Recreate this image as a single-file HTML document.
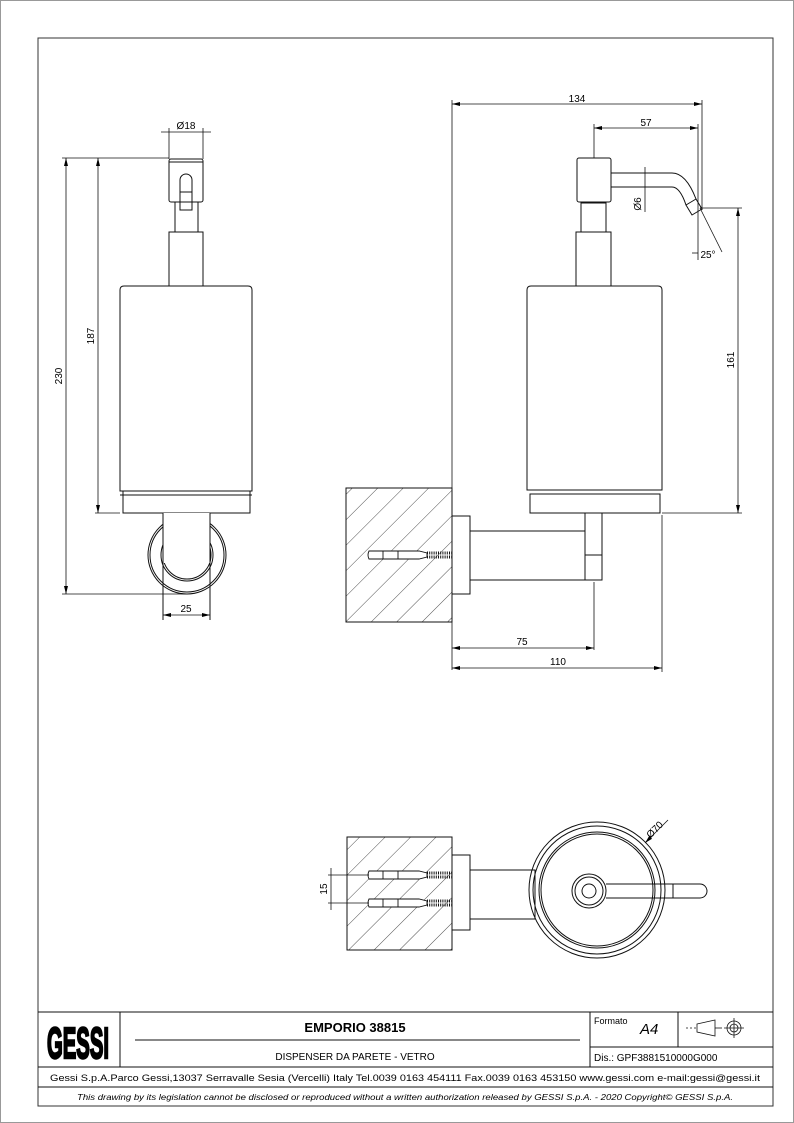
<!DOCTYPE html>
<html><head><meta charset="utf-8"><style>
html,body{margin:0;padding:0;background:#fff}
svg{display:block}
text{font-family:"Liberation Sans",sans-serif;fill:#000}
</style></head><body>
<svg width="794" height="1123" viewBox="0 0 794 1123" xmlns="http://www.w3.org/2000/svg">
<defs>
<pattern id="h" patternUnits="userSpaceOnUse" width="18" height="18" patternTransform="rotate(45)">
<line x1="0" y1="0" x2="0" y2="18" stroke="#222" stroke-width="0.8"/>
</pattern>
<marker id="a" markerWidth="8" markerHeight="6" refX="8" refY="3" orient="auto-start-reverse" markerUnits="userSpaceOnUse"><path d="M0,1 L8,3 L0,5z" fill="#000"/></marker>
</defs>
<rect x="0.5" y="0.5" width="793" height="1122" fill="none" stroke="#999"/>
<rect x="38" y="38" width="735" height="1068" fill="none" stroke="#333" stroke-width="1"/>

<g fill="none" stroke="#111" stroke-width="1">
<!-- LEFT VIEW -->
<rect x="169" y="159" width="34" height="43" rx="2"/>
<line x1="169" y1="162" x2="203" y2="162"/>
<path d="M180,210 V180 a6,6 0 0 1 12,0 V210z"/>
<line x1="180" y1="192" x2="192" y2="192"/>
<rect x="175" y="202" width="23" height="30"/>
<rect x="169" y="232" width="34" height="54"/>
<path d="M120,491 V290 q0,-4 4,-4 H248 q4,0 4,4 V491z"/>
<rect x="123" y="491" width="127" height="22"/>
<line x1="120" y1="495" x2="252" y2="495"/>
<circle cx="187" cy="555" r="39"/><circle cx="187" cy="555" r="37"/>
<circle cx="187" cy="555" r="26"/><circle cx="187" cy="555" r="24"/>
<rect x="163" y="513" width="47" height="50" fill="#fff" stroke="none"/>
<line x1="163" y1="513" x2="163" y2="620"/><line x1="210" y1="513" x2="210" y2="620"/>
<!-- dims left -->
<line x1="62" y1="158" x2="169" y2="158" stroke-width="0.8"/>
<line x1="62" y1="594" x2="187" y2="594" stroke-width="0.8"/>
<line x1="95" y1="513" x2="120" y2="513" stroke-width="0.8"/>
<line x1="66" y1="158" x2="66" y2="594" stroke-width="0.8" marker-start="url(#a)" marker-end="url(#a)"/>
<line x1="98" y1="158" x2="98" y2="513" stroke-width="0.8" marker-start="url(#a)" marker-end="url(#a)"/>
<line x1="169" y1="128" x2="169" y2="159" stroke-width="0.8"/><line x1="203" y1="128" x2="203" y2="159" stroke-width="0.8"/>
<line x1="161" y1="132" x2="211" y2="132" stroke-width="0.8"/>
<line x1="163" y1="615" x2="210" y2="615" stroke-width="0.8" marker-start="url(#a)" marker-end="url(#a)"/>

<!-- RIGHT VIEW -->
<rect x="346" y="488" width="106" height="134" fill="url(#h)"/>
<line x1="452" y1="100" x2="452" y2="670" stroke-width="0.8"/>
<rect x="452" y="516" width="18" height="78"/>
<rect x="470" y="531" width="115" height="49"/>
<rect x="585" y="513" width="17" height="67"/>
<line x1="585" y1="555" x2="602" y2="555"/>
<path d="M527,490 V290 q0,-4 4,-4 H658 q4,0 4,4 V490z"/>
<rect x="530" y="494" width="130" height="19"/>
<rect x="576" y="232" width="35" height="54"/>
<rect x="581" y="203" width="25" height="29"/>
<rect x="577" y="158" width="34" height="44" rx="2"/>
<path d="M611,173 H672 q14,0 24,26 M611,187 H672 q8,0 14,18"/>
<path d="M686,205 l10,-6 l6,10 l-10,6z"/>
<g stroke-width="0.9">
<path d="M369,551 h50 l8,2 v4 l-8,2 h-50 q-2,-4 0,-8z" fill="#fff"/>
<line x1="383" y1="551" x2="383" y2="559"/><line x1="398" y1="551" x2="398" y2="559"/>
<path d="M427,553 h25 M427,557 h25" stroke-dasharray="1 1.2" stroke-width="3"/>
</g>
<line x1="594" y1="124" x2="594" y2="158" stroke-width="0.8"/>
<line x1="702" y1="100" x2="702" y2="210" stroke-width="0.8"/>
<line x1="698" y1="124" x2="698" y2="260" stroke-width="0.8"/>
<line x1="452" y1="104" x2="702" y2="104" stroke-width="0.8" marker-start="url(#a)" marker-end="url(#a)"/>
<line x1="594" y1="128" x2="698" y2="128" stroke-width="0.8" marker-start="url(#a)" marker-end="url(#a)"/>
<line x1="645" y1="167" x2="645" y2="212" stroke-width="0.8"/>
<line x1="700" y1="208" x2="742" y2="208" stroke-width="0.8"/>
<line x1="662" y1="513" x2="742" y2="513" stroke-width="0.8"/>
<line x1="738" y1="208" x2="738" y2="513" stroke-width="0.8" marker-start="url(#a)" marker-end="url(#a)"/>
<line x1="700" y1="208" x2="722" y2="252" stroke-width="0.8"/>
<line x1="692" y1="253" x2="698" y2="253" stroke-width="0.8"/>
<line x1="594" y1="582" x2="594" y2="650" stroke-width="0.8"/>
<line x1="662" y1="515" x2="662" y2="672" stroke-width="0.8"/>
<line x1="452" y1="648" x2="594" y2="648" stroke-width="0.8" marker-start="url(#a)" marker-end="url(#a)"/>
<line x1="452" y1="668" x2="662" y2="668" stroke-width="0.8" marker-start="url(#a)" marker-end="url(#a)"/>

<!-- BOTTOM VIEW -->
<rect x="347" y="837" width="105" height="113" fill="url(#h)"/>
<rect x="452" y="855" width="18" height="75"/>
<rect x="470" y="870" width="65" height="49"/>
<circle cx="597" cy="890" r="68"/><circle cx="597" cy="890" r="64"/>
<circle cx="597" cy="890" r="58"/><circle cx="597" cy="890" r="56"/>
<circle cx="589" cy="891" r="17"/><circle cx="589" cy="891" r="14"/><circle cx="589" cy="891" r="7"/>
<path d="M606,884 H700 a7,7 0 0 1 0,14 H606"/>
<line x1="673" y1="884" x2="673" y2="898"/>
<g stroke-width="0.9">
<path d="M369,871 h50 l8,2 v4 l-8,2 h-50 q-2,-4 0,-8z" fill="#fff"/>
<path d="M427,873 h25 M427,877 h25" stroke-dasharray="1 1.2" stroke-width="3"/>
<path d="M369,899 h50 l8,2 v4 l-8,2 h-50 q-2,-4 0,-8z" fill="#fff"/>
<path d="M427,901 h25 M427,905 h25" stroke-dasharray="1 1.2" stroke-width="3"/>
<line x1="383" y1="871" x2="383" y2="879"/><line x1="398" y1="871" x2="398" y2="879"/>
<line x1="383" y1="899" x2="383" y2="907"/><line x1="398" y1="899" x2="398" y2="907"/>
</g>
<line x1="328" y1="875" x2="369" y2="875" stroke-width="0.8"/>
<line x1="328" y1="903" x2="369" y2="903" stroke-width="0.8"/>
<line x1="331" y1="868" x2="331" y2="910" stroke-width="0.8"/>
<line x1="645" y1="843" x2="668" y2="820" stroke-width="0.8" marker-start="url(#a)"/>

<!-- TITLE BLOCK -->
<line x1="38" y1="1012" x2="773" y2="1012"/>
<line x1="120" y1="1012" x2="120" y2="1067"/>
<line x1="135" y1="1040" x2="580" y2="1040"/>
<line x1="590" y1="1012" x2="590" y2="1067"/>
<line x1="678" y1="1012" x2="678" y2="1047"/>
<line x1="590" y1="1047" x2="773" y2="1047"/>
<line x1="38" y1="1067" x2="773" y2="1067"/>
<line x1="38" y1="1087" x2="773" y2="1087"/>
<path d="M697,1024 l18,-4 v16 l-18,-4z" stroke-width="0.8"/>
<line x1="686" y1="1028" x2="697" y2="1028" stroke-width="0.8" stroke-dasharray="2 2"/>
<line x1="715" y1="1028" x2="722" y2="1028" stroke-width="0.8"/>
<circle cx="734" cy="1028" r="7" stroke-width="0.8"/><circle cx="734" cy="1028" r="4" stroke-width="0.8"/>
<line x1="724" y1="1028" x2="744" y2="1028" stroke-width="0.8"/><line x1="734" y1="1018" x2="734" y2="1038" stroke-width="0.8"/>
</g>

<g font-size="10">
<text x="186" y="129" text-anchor="middle">Ø18</text>
<text x="62" y="376" text-anchor="middle" transform="rotate(-90 62 376)">230</text>
<text x="94" y="336" text-anchor="middle" transform="rotate(-90 94 336)">187</text>
<text x="186" y="612" text-anchor="middle">25</text>
<text x="577" y="102" text-anchor="middle">134</text>
<text x="646" y="126" text-anchor="middle">57</text>
<text x="641" y="204" text-anchor="middle" transform="rotate(-90 641 204)">Ø6</text>
<text x="708" y="258" text-anchor="middle">25°</text>
<text x="734" y="360" text-anchor="middle" transform="rotate(-90 734 360)">161</text>
<text x="522" y="645" text-anchor="middle">75</text>
<text x="558" y="665" text-anchor="middle">110</text>
<text x="327" y="889" text-anchor="middle" transform="rotate(-90 327 889)">15</text>
<text x="657" y="832" text-anchor="middle" transform="rotate(-45 657 832)">Ø70</text>
</g>
<text x="78" y="1058" text-anchor="middle" font-size="44" font-weight="bold" stroke="#000" stroke-width="2.5" textLength="62" lengthAdjust="spacingAndGlyphs">GESSI</text>
<text x="355" y="1032" text-anchor="middle" font-size="13" font-weight="bold">EMPORIO 38815</text>
<text x="355" y="1060" text-anchor="middle" font-size="10">DISPENSER DA PARETE - VETRO</text>
<text x="594" y="1024" font-size="9">Formato</text>
<text x="640" y="1034" font-size="15" font-style="italic">A4</text>
<text x="594" y="1061" font-size="10">Dis.: GPF3881510000G000</text>
<text x="405" y="1081" text-anchor="middle" font-size="9.5" textLength="710" lengthAdjust="spacingAndGlyphs">Gessi S.p.A.Parco Gessi,13037 Serravalle Sesia (Vercelli) Italy Tel.0039 0163 454111 Fax.0039 0163 453150 www.gessi.com e-mail:gessi@gessi.it</text>
<text x="405" y="1100" text-anchor="middle" font-size="8" font-style="italic" textLength="656" lengthAdjust="spacingAndGlyphs">This drawing by its legislation cannot be disclosed or reproduced without a written authorization released by GESSI S.p.A. - 2020 Copyright© GESSI S.p.A.</text>
</svg>
</body></html>
